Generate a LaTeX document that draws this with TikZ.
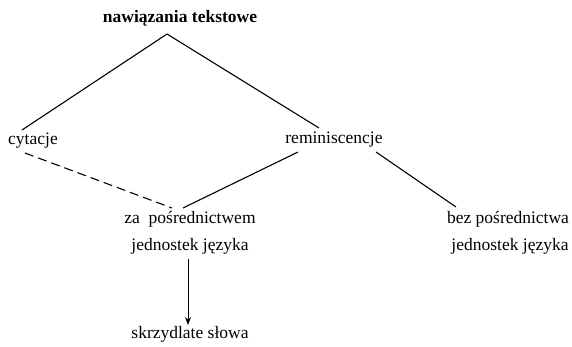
\documentclass[tikz,border=0pt]{standalone}
\usepackage{fontspec}
\setmainfont{Liberation Serif}
\usetikzlibrary{arrows.meta}
\begin{document}
\begin{tikzpicture}[x=1pt,y=-1pt,
  lbl/.style={inner sep=0pt, font=\fontsize{17.5}{20}\selectfont},
  ln/.style={line width=1.1pt},
  dsh/.style={line width=1.1pt, dash pattern=on 9pt off 5pt}]
\useasboundingbox (0,0) rectangle (572,346);
% category labels
\node[lbl, font=\fontsize{17.5}{20}\selectfont\bfseries] (top) at (180,18) {nawiązania tekstowe};
\node[lbl] (cyt) at (33,141) {cytacje};
\node[lbl] (rem) at (334,140) {reminiscencje};
\node[lbl] (za1) at (190,219) {za\ \ pośrednictwem};
\node[lbl] (za2) at (190,246) {jednostek języka};
\node[lbl] (bez1) at (508,219) {bez pośrednictwa};
\node[lbl] (bez2) at (510,246) {jednostek języka};
\node[lbl] (skr) at (190,334) {skrzydlate słowa};
% tree branches
\coordinate (apex) at (167,34);
\coordinate (cytTop) at (22,130);
\coordinate (remTop) at (319,128);
\coordinate (cytLow) at (25,153);
\coordinate (zaTop) at (172,208);
\coordinate (zaTopR) at (183,208);
\coordinate (remLowL) at (298,152);
\coordinate (remLowR) at (376,152);
\coordinate (bezTop) at (456,207);
\coordinate (arrS) at (188,259);
\coordinate (arrE) at (188,325);
\draw[ln] (cytTop) -- (apex) -- (remTop);
\draw[dsh] (cytLow) -- (zaTop);
\draw[ln] (remLowL) -- (zaTopR);
\draw[ln] (remLowR) -- (bezTop);
\draw[line width=0.9pt, -{Stealth[length=8pt,width=6pt]}] (arrS) -- (arrE);
\end{tikzpicture}
\end{document}
